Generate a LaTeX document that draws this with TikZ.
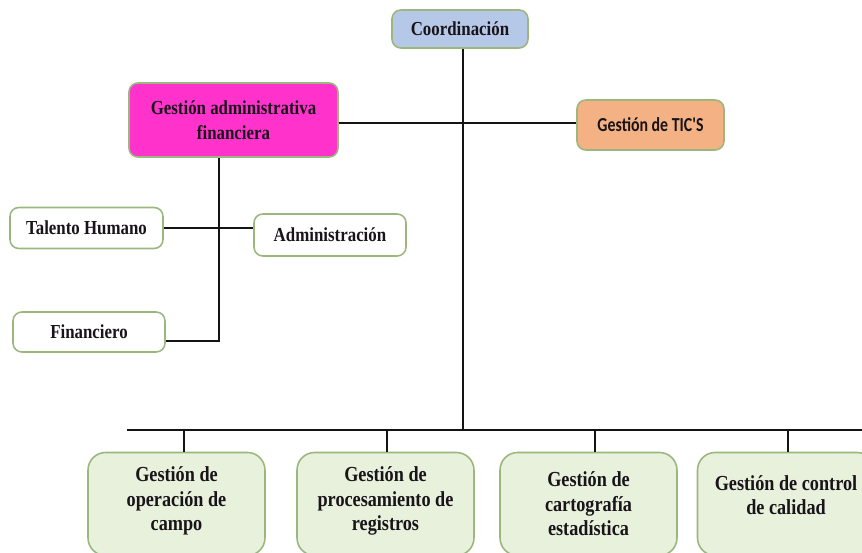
\documentclass[tikz,border=0pt]{standalone}
\usepackage{fontspec}
\setmainfont{Liberation Serif}[FakeStretch=0.85]
\newfontfamily\ticfont{Carlito}[FakeStretch=0.8]
\usepackage{tikz}
\usetikzlibrary{positioning}
\definecolor{lineColor}{RGB}{20, 20, 20}
\definecolor{edgeGreen}{RGB}{155, 183, 126}
\definecolor{coordFill}{RGB}{182, 200, 232}
\definecolor{adminFill}{RGB}{255, 51, 204}
\definecolor{ticFill}{RGB}{244, 177, 131}
\definecolor{areaFill}{RGB}{232, 241, 220}
\definecolor{textColor}{RGB}{25, 20, 25}
\tikzset{
    unit_box/.style={
        draw=edgeGreen,
        line width=0.9pt,
        rounded corners=5pt,
        fill=white,
        text=textColor,
        align=center,
        inner sep=0pt,
        font=\fontsize{11.3}{14}\selectfont\bfseries
    },
    area_box/.style={
        unit_box,
        rounded corners=10pt,
        fill=areaFill,
        minimum width=3.54cm,
        minimum height=2.06cm,
        font=\fontsize{12.2}{13.9}\selectfont\bfseries
    },
    link_line/.style={
        draw=lineColor,
        line width=1.3pt
    }
}

\begin{document}
\begin{tikzpicture}[x=0.02cm, y=-0.02cm]
        \clip (0,0) rectangle (862,553);
        \fill[white] (0,0) rectangle (862,553);

        % upper part
        \node[unit_box, fill=coordFill, minimum width=2.72cm, minimum height=0.76cm] (coord) at (460,29) {Coordinación};
        \node[unit_box, fill=adminFill, minimum width=4.18cm, minimum height=1.48cm] (gaf) at (233.5,120) {Gestión administrativa\\financiera};
        \node[unit_box, fill=ticFill, minimum width=2.94cm, minimum height=1.0cm, font=\ticfont\fontsize{11.3}{14}\selectfont\bfseries] (tic) at (650.5,125) {Gestión de TIC'S};

        \node[unit_box, minimum width=3.06cm, minimum height=0.82cm] (talento) at (86.5,228) {Talento Humano};
        \node[unit_box, minimum width=3.04cm, minimum height=0.84cm] (admin) at (330,235) {Administración};
        \node[unit_box, minimum width=3.04cm, minimum height=0.80cm] (financiero) at (89,332) {Financiero};

        % lower areas (trailing \\ lifts the text a little)
        \node[area_box] (campo) at (176.5,504) {Gestión de\\operación de\\campo\\[-8pt]};
        \node[area_box] (proceso) at (385.5,504) {Gestión de\\procesamiento de\\registros\\[-8pt]};
        \node[area_box] (carto) at (588.5,504) {Gestión de\\cartografía\\estadística};
        \node[area_box] (calidad) at (786,504) {Gestión de control\\de calidad\\[-3.5pt]};

        \coordinate (trunk) at (463,430);
        \coordinate (spine) at (219,341);
        \coordinate (busL) at (127,430);
        \coordinate (busR) at (862,430);

        \draw[link_line] (trunk |- coord.south) -- (trunk);
        \draw[link_line] (gaf.east) ++(0,3) -- (tic.west |- 0,123);
        \draw[link_line] (spine |- gaf.south) -- (spine) -- (spine -| financiero.east);
        \draw[link_line] (talento.east) -- (talento.east -| admin.west);
        \draw[link_line] (busL) -- (busR);

        \foreach \x/\unit in {184/campo, 387/proceso, 595/carto, 788/calidad}{
            \coordinate (drop) at (\x,430);
            \draw[link_line] (drop) -- (drop |- \unit.north);
        }
    \end{tikzpicture}
\end{document}
